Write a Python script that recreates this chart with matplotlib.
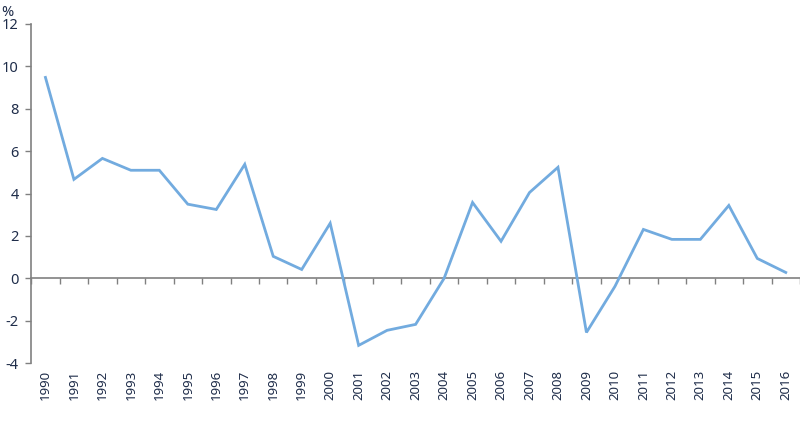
import numpy as np
import matplotlib
matplotlib.use('Agg')
import matplotlib.pyplot as plt

# ── Data ──────────────────────────────────────────────────
years = [str(y) for y in range(1990, 2017)]
growth = [9.48, 4.67, 5.66, 5.10, 5.10, 3.50, 3.25, 5.38, 1.04, 0.42,
          2.60, -3.16, -2.45, -2.17, 0.00, 3.58, 1.75, 4.05, 5.24, -2.55,
          -0.38, 2.31, 1.84, 1.84, 3.44, 0.94, 0.28]
y_ticks = [-4, -2, 0, 2, 4, 6, 8, 10, 12]

LINE = '#72abdf'
TEXT = '#1f2d4a'
AXIS = '#808080'

plt.rcParams['font.family'] = ['Noto Sans', 'DejaVu Sans']

fig = plt.figure(figsize=(8, 4.36), dpi=100)
ax = fig.add_axes([0.039, 0.167, 0.961, 0.778])

x = np.arange(len(years))
ax.plot(x, growth, color=LINE, lw=2.0, solid_joinstyle='miter')

ax.set_xlim(-0.5, len(years) - 0.5)
ax.set_ylim(-4, 12)
ax.set_yticks(y_ticks)
ax.set_yticklabels([str(v) for v in y_ticks], color=TEXT, fontsize=10.5)
ax.tick_params(axis='y', length=4, width=1, color=AXIS, pad=5)

ax.set_xticks(x)
ax.set_xticklabels(years, rotation=90, color=TEXT, fontsize=9.5)
ax.tick_params(axis='x', length=0, pad=5)

for s in ['top', 'right', 'bottom']:
    ax.spines[s].set_visible(False)
ax.spines['left'].set_color(AXIS)
ax.spines['left'].set_linewidth(1.2)

# zero line with category-boundary ticks
zero = ax.secondary_xaxis(0.25)
zero.set_xticks(np.arange(-0.5, len(years), 1.0))
zero.set_xticklabels([])
zero.tick_params(length=4, width=1, color=AXIS, direction='out')
zero.spines['bottom'].set_color(AXIS)
zero.spines['bottom'].set_linewidth(1.2)

fig.text(0.002, 0.972, '%', color=TEXT, fontsize=10.5, fontweight='bold',
         va='center', ha='left')

fig.savefig('out.png', dpi=100)
